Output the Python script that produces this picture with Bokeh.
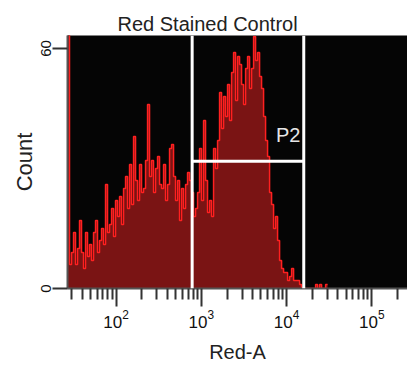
import numpy as np
from bokeh.plotting import figure
from bokeh.models import Range1d, FixedTicker, Label, Title, Span
from bokeh.embed import file_html
from bokeh.resources import INLINE

# ---------------- data ----------------
title_text = "Red Stained Control"
x_label = "Red-A"
y_label = "Count"
gate_label = "P2"

# histogram bins: evenly spaced in log10(Red-A)
bin_log_start = 1.43
bin_log_width = 0.02347
counts = [
    70, 6, 9, 14, 6, 10, 17, 9, 5, 14,
    8, 11, 7, 14, 17, 9, 12, 15, 11, 26,
    14, 16, 20, 13, 22, 18, 23, 16, 25, 28,
    20, 31, 21, 38, 27, 22, 31, 24, 25, 32,
    46, 28, 32, 24, 30, 33, 26, 25, 31, 22,
    26, 35, 36, 28, 22, 27, 17, 25, 20, 26,
    29, 27, 24, 18, 20, 24, 35, 22, 42, 27,
    19, 22, 18, 35, 30, 37, 49, 40, 48, 43,
    51, 42, 54, 59, 47, 58, 56, 51, 46, 55,
    58, 50, 55, 63, 57, 59, 53, 50, 43, 37,
    33, 24, 21, 15, 18, 12, 7, 5, 4, 4,
    2, 3, 5, 2, 2, 2, 1, 0, 0, 0,
    0, 0, 0, 0, 1, 0, 1, 0, 0, 1,
]

x_start, x_end = 26.9, 262144
y_start, y_end = 0, 63.25
x_ticks = [1e2, 1e3, 1e4, 1e5]
x_minor_ticks = [k * 10 ** e for e in range(1, 6) for k in range(2, 10)]
y_ticks = [0, 60]

gate_lo, gate_hi = 780, 15900
gate_level = 31.8
gate_label_x, gate_label_y = 14500, 38.4

FONT = "Liberation Sans"

# ---------------- figure ----------------
p = figure(
    width=407, height=366,
    x_axis_type="log",
    x_range=Range1d(x_start, x_end),
    y_range=Range1d(y_start, y_end),
    output_backend="svg", toolbar_location=None,
    min_border_left=67, min_border_right=0,
    min_border_top=35, min_border_bottom=78,
    background_fill_color="#050505",
    border_fill_color="white",
    outline_line_color=None,
)
p.grid.visible = False

edges = 10 ** (bin_log_start + bin_log_width * np.arange(len(counts) + 1))
ys = list(counts) + [counts[-1]]
p.varea_step(x=edges, y1=np.zeros(len(ys)), y2=ys, step_mode="after",
             fill_color="#7a1414")
p.step(x=edges, y=ys, mode="after", line_color="#ff2020", line_width=1.5)

# gate P2
for loc in (gate_lo, gate_hi):
    p.add_layout(Span(location=loc, dimension="height",
                      line_color="white", line_width=3))
p.segment(x0=[gate_lo], y0=[gate_level], x1=[gate_hi], y1=[gate_level],
          line_color="white", line_width=3)
p.add_layout(Label(x=gate_label_x, y=gate_label_y, text=gate_label,
                   text_align="right", text_baseline="alphabetic",
                   text_color="#e6e6e6", text_font=FONT,
                   text_font_size="20px"))

# title
p.add_layout(Title(text=title_text, align="left", offset=50,
                   text_font=FONT, text_font_size="20px",
                   text_font_style="normal", text_color="#222222",
                   standoff=2), "above")

# x axis
xa = p.xaxis[0]
xa.ticker = FixedTicker(ticks=x_ticks, minor_ticks=x_minor_ticks)
xa.major_tick_out = 18
xa.major_tick_in = 0
xa.minor_tick_out = 11
xa.minor_tick_in = 0
xa.major_tick_line_width = 2
xa.minor_tick_line_width = 2
xa.major_tick_line_color = "#333333"
xa.minor_tick_line_color = "#333333"
xa.axis_line_width = 2
xa.axis_line_color = "#555555"
xa.major_label_text_font = FONT
xa.major_label_text_font_size = "17px"
xa.major_label_text_color = "#111111"
xa.major_label_standoff = 3
xa.axis_label = x_label
xa.axis_label_text_font = FONT
xa.axis_label_text_font_size = "20px"
xa.axis_label_text_font_style = "normal"
xa.axis_label_text_color = "#222222"
xa.axis_label_standoff = 10

# y axis
ya = p.yaxis[0]
ya.ticker = FixedTicker(ticks=y_ticks, minor_ticks=[])
ya.major_tick_out = 15
ya.major_tick_in = 0
ya.minor_tick_out = 0
ya.minor_tick_in = 0
ya.major_tick_line_width = 2
ya.major_tick_line_color = "#333333"
ya.axis_line_width = 2
ya.axis_line_color = "#555555"
ya.major_label_orientation = "vertical"
ya.major_label_text_font = FONT
ya.major_label_text_font_size = "15px"
ya.major_label_text_color = "#111111"
ya.major_label_standoff = 2
ya.axis_label = y_label
ya.axis_label_text_font = FONT
ya.axis_label_text_font_size = "22px"
ya.axis_label_text_font_style = "normal"
ya.axis_label_text_color = "#222222"
ya.axis_label_standoff = 1

open("out.html", "w").write(file_html(p, INLINE))
